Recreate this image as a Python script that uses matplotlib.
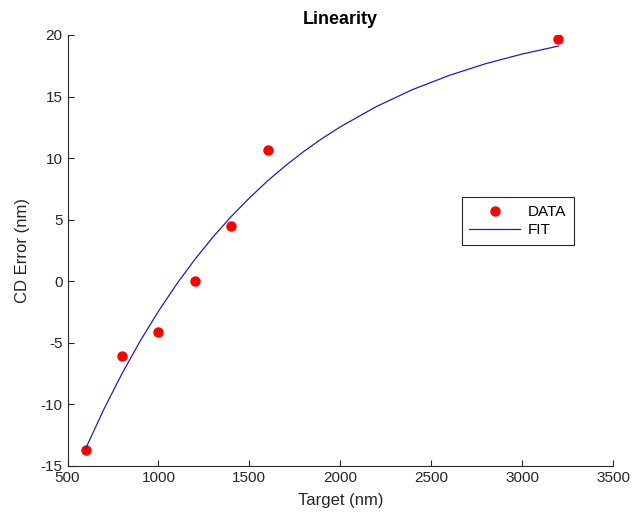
import matplotlib.pyplot as plt

plt.rcParams["font.family"] = ["Liberation Sans", "DejaVu Sans"]
plt.rcParams["axes.unicode_minus"] = False

# measured points
target = [600, 800, 1000, 1200, 1400, 1600, 3200]
cd_error = [-13.7, -6.1, -4.1, 0.0, 4.45, 10.7, 19.7]

# fitted curve
fit_x = [600, 700, 800, 900, 1000, 1100, 1200, 1300, 1400, 1500, 1600, 1700,
         1800, 1900, 2000, 2200, 2400, 2600, 2800, 3000, 3200]
fit_y = [-13.58, -10.39, -7.49, -4.84, -2.44, -0.23, 1.77, 3.59, 5.25, 6.76,
         8.15, 9.40, 10.55, 11.59, 12.54, 14.20, 15.58, 16.72, 17.67, 18.45,
         19.10]

fig = plt.figure(figsize=(6.34, 5.22), dpi=100)
ax = fig.add_axes([0.1065, 0.1073, 0.8604, 0.8257])

ax.plot(target, cd_error, "o", color="red", markersize=6.5, label="DATA")
ax.plot(fit_x, fit_y, "-", color="#1f1fb4", linewidth=0.9, label="FIT")

ax.set_xlim(500, 3500)
ax.set_ylim(-15, 20)
ax.set_xticks(range(500, 3501, 500))
ax.set_yticks(range(-15, 21, 5))

ax.spines["top"].set_visible(False)
ax.spines["right"].set_visible(False)
for s in ("left", "bottom"):
    ax.spines[s].set_color("#262626")
    ax.spines[s].set_linewidth(0.8)
ax.tick_params(direction="in", length=4, width=0.8, colors="#262626",
               labelsize=11, labelcolor="#262626")

ax.set_title("Linearity", fontsize=13, fontweight="bold", pad=8)
ax.set_xlabel("Target (nm)", fontsize=12, color="#262626", labelpad=6)
ax.set_ylabel("CD Error (nm)", fontsize=12, color="#262626", labelpad=8)

leg = ax.legend(loc="upper left", bbox_to_anchor=(0.7226, 0.6235),
                borderaxespad=0, fontsize=11, fancybox=False,
                edgecolor="#262626", framealpha=1, borderpad=0.5,
                handlelength=3.3, handletextpad=0.55, labelspacing=0.3)
leg.get_frame().set_linewidth(0.8)

fig.savefig("out.png", dpi=100)
